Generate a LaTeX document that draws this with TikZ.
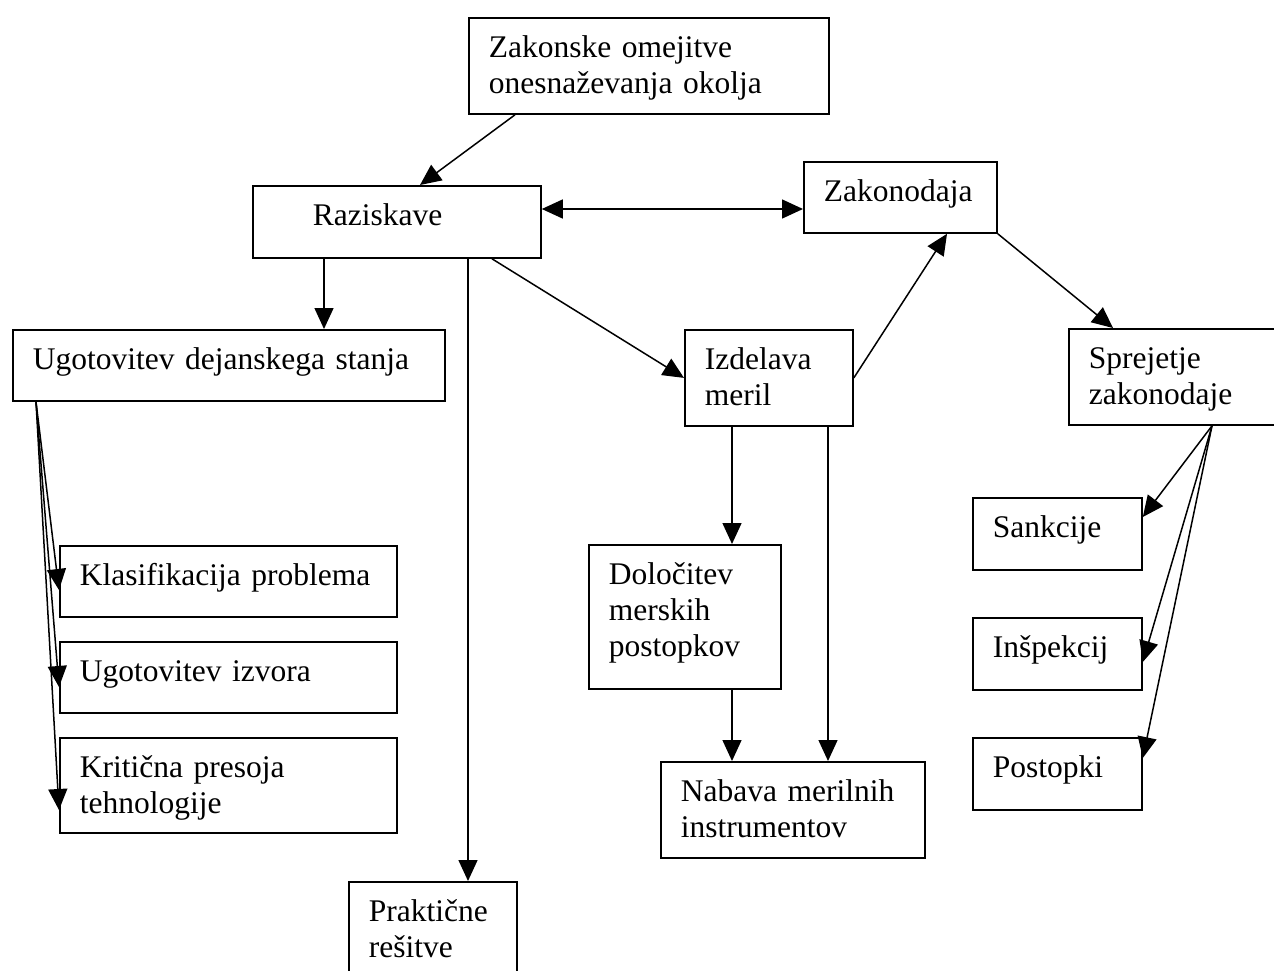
\documentclass[tikz,border=0pt]{standalone}
\usepackage{fontspec}
\setmainfont{Liberation Serif}[WordSpace=0.8]
\usetikzlibrary{arrows.meta,calc}

\begin{document}
\begin{tikzpicture}[x=1pt, y=-1pt, >={Triangle[length=21pt,width=19pt]},
  font=\fontsize{31.5}{36}\selectfont,
  box/.style={draw, line width=1.8pt, anchor=north west, inner xsep=20pt,
    inner ysep=0pt, align=left, text height=40pt},
  link/.style={line width=1.5pt}]
  \useasboundingbox (0,0) rectangle (1274,971);

  \node[box, text width=320pt, text depth=56pt] (zak) at (468,17) {Zakonske omejitve\\onesnaževanja okolja};
  \node[box, inner xsep=60pt, text width=168pt, text depth=32pt] (raz) at (252,185) {Raziskave};
  \node[box, text width=153pt, text depth=31pt] (zkd) at (803,161) {Zakonodaja};
  \node[box, text width=392pt, text depth=31pt] (ugs) at (12,329) {Ugotovitev dejanskega stanja};
  \node[box, text width=128pt, text depth=56pt] (izd) at (684,329) {Izdelava\\meril};
  \node[box, text width=180pt, text depth=56pt] (spr) at (1068,328) {Sprejetje\\zakonodaje};
  \node[box, text width=297pt, text depth=31pt] (kla) at (59,545) {Klasifikacija problema};
  \node[box, text width=297pt, text depth=31pt] (izv) at (59,641) {Ugotovitev izvora};
  \node[box, text width=297pt, text depth=55pt] (kri) at (59,737) {Kritična presoja\\tehnologije};
  \node[box, text width=152pt, text depth=104pt] (dol) at (588,544) {Določitev\\merskih\\postopkov};
  \node[box, text width=224pt, text depth=56pt] (nab) at (660,761) {Nabava merilnih\\instrumentov};
  \node[box, text width=128pt, text depth=56pt] (pra) at (348,881) {Praktične\\rešitve};
  \node[box, text width=129pt, text depth=32pt] (san) at (972,497) {Sankcije};
  \node[box, text width=129pt, text depth=32pt] (ins) at (972,617) {Inšpekcij};
  \node[box, text width=129pt, text depth=32pt] (pos) at (972,737) {Postopki};

  \draw[link, ->] ($(zak.south west)+(47,0)$) -- ($(raz.north west)+(168,0)$);
  \draw[link, <->] ($(raz.north east)+(0,24)$) -- ($(zkd.north west)+(0,48)$);
  \draw[link, ->] ($(raz.south west)+(72,0)$) coordinate (r1) -- (r1 |- ugs.north);
  \draw[link, ->] ($(raz.south west)+(216,0)$) coordinate (r2) -- (r2 |- pra.north);
  \draw[link, ->] ($(raz.south west)+(240,0)$) -- (izd.west);
  \draw[link, ->] (izd.east) -- ($(zkd.south west)+(144,0)$);
  \draw[link, ->] (zkd.south east) -- ($(spr.north west)+(45,0)$);
  \draw[link, ->] ($(izd.south west)+(48,0)$) coordinate (i1) -- (i1 |- dol.north);
  \draw[link, ->] ($(izd.south west)+(144,0)$) coordinate (i2) -- (i2 |- nab.north);
  \draw[link, ->] ($(dol.south west)+(144,0)$) coordinate (d1) -- (d1 |- nab.north);

  % fan-out arrows
  \coordinate (u0) at ($(ugs.south west)+(24,0)$);
  \foreach \n/\dy in {kla/45, izv/46, kri/73}
    \draw[link, ->] (u0) -- ($(\n.north west)+(0,\dy)$);
  \coordinate (s0) at ($(spr.south west)+(144,0)$);
  \foreach \n/\dy in {san/20, ins/45, pos/21}
    \draw[link, ->] (s0) -- ($(\n.north east)+(0,\dy)$);
\end{tikzpicture}
\end{document}
